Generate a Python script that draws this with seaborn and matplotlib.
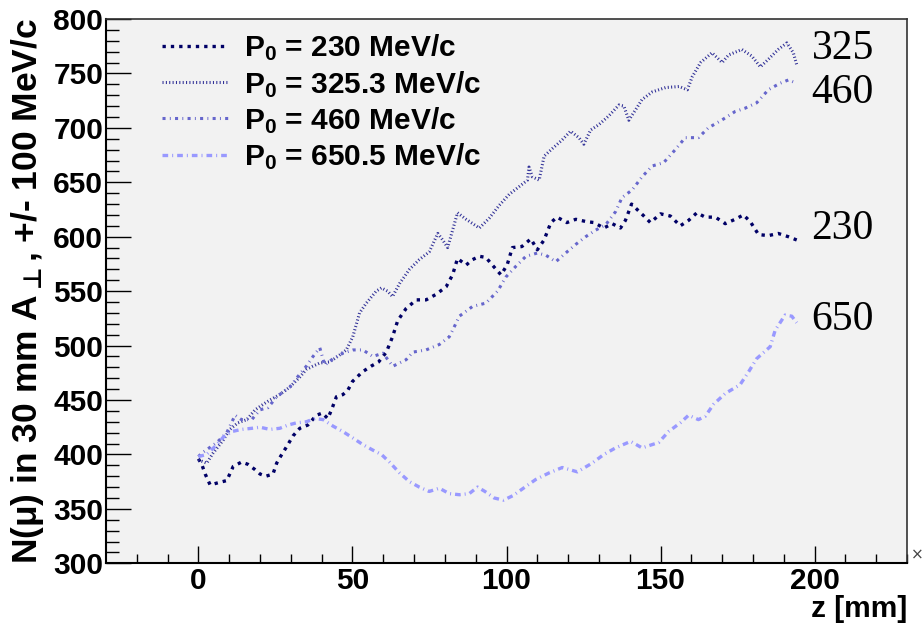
import numpy as np
import pandas as pd
import matplotlib
matplotlib.use("Agg")
import matplotlib.pyplot as plt
import seaborn as sns

# ---- data: muon counts vs. z for four reference momenta ----
z_230 = [0, 1.2, 2.2, 3.8, 6.4, 9.2, 11.3, 14, 16, 18.4, 20, 21.9, 24.2, 25.4, 26.4, 28.6,
         30.7, 32.9, 35.5, 38.3, 40.2, 42, 43.2, 44.8, 46.9, 48.5, 50, 53.3, 56, 58.5, 61,
         63, 64.7, 67.4, 70.7, 73.9, 77.1, 80.4, 82.5, 84.1, 86.9, 89, 91.2, 93.3, 95.4,
         98.2, 100.2, 101.9, 105, 107.9, 110, 112.2, 114.4, 116.4, 119.6, 122.5, 125.7,
         128.4, 131.6, 134.3, 137, 138.6, 140.6, 142.4, 144.6, 146.7, 150, 153.2, 156.4,
         159.1, 161.8, 164.5, 167.8, 171, 174.2, 176.9, 179.1, 181.8, 185, 188.2, 191.5, 194.2]
n_230 = [396, 390, 382, 372, 374, 376, 389, 393, 391, 386, 382, 380, 382, 392, 397, 407,
         417, 424, 427, 436, 438, 433, 441, 453, 455, 459, 467, 476, 481, 485, 494,
         508, 523, 534, 542, 542, 547, 554, 565, 580, 574, 579, 582, 581, 574,
         565, 574, 590, 591, 598, 588, 597, 613, 618, 613, 616, 614,
         613, 608, 612, 608, 615, 630, 625, 619, 613, 621, 619, 610,
         615, 622, 618, 618, 612, 616, 620, 614, 602, 601, 603, 600, 597]

z_325 = [0, 2.7, 4.7, 8, 10.2, 12.8, 15.7, 18.4, 21, 23.2, 26.4, 29.7, 32.9, 35, 37.1,
         39.4, 42.6, 45.2, 48, 50.1, 52.3, 54.5, 57.7, 59.4, 61.4, 63, 65.3, 68.5, 71.7,
         74.9, 77.7, 79.3, 80.9, 82.5, 84.1, 86.9, 91.2, 94.4, 97.7, 100.9, 104.1, 106.8,
         107.3, 108.4, 110.6, 112.2, 114.9, 118.1, 120.8, 123.5, 125.1, 127.3, 130, 133.2,
         136.5, 138.1, 139.7, 141.3, 144, 147.3, 151.6, 156, 158.7, 160.3, 163, 166.7, 170,
         172.1, 176.4, 179.6, 182.4, 185, 188.2, 191, 193.1, 194.2]
n_325 = [395, 392, 401, 413, 423, 429, 432, 441, 446, 450, 455, 462, 471, 478, 481,
         484, 485, 490, 496, 508, 530, 539, 550, 553, 550, 545, 557, 570, 579,
         586, 603, 597, 590, 606, 622, 616, 608, 617, 629, 639, 646, 652,
         664, 655, 652, 674, 681, 689, 697, 691, 685, 698, 703, 711,
         721, 720, 707, 714, 726, 733, 737, 738, 735, 747, 760, 769, 760,
         767, 772, 766, 756, 763, 772, 778, 769, 758]

z_460 = [0, 1, 6, 9.2, 11.9, 14, 17.3, 20, 22.6, 25.4, 29.7, 32.4, 35, 37.2, 39.4, 41,
         43.7, 46.9, 50.2, 53.4, 56.6, 59.9, 63.1, 67.4, 69.6, 73.9, 78.2, 81.4, 82.5,
         84.7, 89, 93.3, 97.1, 99.8, 103.1, 106.3, 110, 112.8, 116, 119.2, 122.5, 125.7,
         128.9, 132.2, 135.4, 137.5, 140.8, 144, 147.3, 151, 154.8, 158, 162.3, 165.5,
         169.8, 174.2, 177.4, 181.2, 185, 188.8, 191.5, 194.2]
n_460 = [398, 401, 411, 420, 436, 432, 432, 441, 443, 453, 462, 472, 481, 490, 498, 482,
         488, 493, 496, 496, 490, 493, 481, 487, 494, 496, 501, 508, 514,
         527, 536, 539, 550, 563, 573, 582, 585, 583, 577, 585, 593, 600,
         606, 611, 623, 636, 643, 655, 665, 668, 680, 691, 691, 700,
         707, 715, 718, 723, 735, 741, 744, 741]

z_650 = [0, 2.7, 6, 8.1, 10.8, 14, 17.3, 20, 23.2, 26.4, 29.1, 31.8, 35, 37.8, 40.5,
         43.7, 46.9, 50.2, 53.4, 56.6, 59.4, 62, 65.3, 68.5, 71.7, 74.9, 78.2, 81.4, 84.7,
         87.9, 90.6, 93, 96, 99, 102, 105, 109.5, 113.8, 118.1, 123, 127.8, 131.6, 135.4,
         140.3, 144, 149.4, 152.6, 156.4, 159.1, 162.3, 164.5, 167.2, 171, 175.8, 178.6,
         181.2, 185.6, 187.2, 190.4, 192.6, 194.2]
n_650 = [398, 400, 409, 416, 421, 423, 424, 425, 423, 424, 427, 429, 430, 433, 432,
         426, 421, 415, 409, 404, 400, 393, 383, 375, 370, 366, 369, 364, 363,
         364, 370, 366, 360, 358, 362, 368, 377, 383, 388, 384, 392, 400, 406,
         412, 406, 411, 421, 429, 436, 432, 435, 446, 456, 464, 476,
         488, 499, 514, 528, 527, 521]

legend_labels = [r"$P_0$ = 230 MeV/c", r"$P_0$ = 325.3 MeV/c",
                 r"$P_0$ = 460 MeV/c", r"$P_0$ = 650.5 MeV/c"]
end_tags = ["230", "325", "460", "650"]

# ---- styling ----
sns.set_theme(style="ticks")
plt.rcParams["font.family"] = ["Liberation Sans", "DejaVu Sans"]
plt.rcParams["font.weight"] = "bold"
plt.rcParams["text.color"] = "black"
plt.rcParams["axes.labelcolor"] = "black"
plt.rcParams["mathtext.fontset"] = "custom"
plt.rcParams["mathtext.rm"] = "Liberation Sans:bold"
plt.rcParams["mathtext.bf"] = "Liberation Sans:bold"
plt.rcParams["mathtext.it"] = "Liberation Sans:bold"
plt.rcParams["mathtext.sf"] = "DejaVu Sans:bold"
plt.rcParams["mathtext.fallback"] = "stixsans"
plt.rcParams["mathtext.default"] = "rm"

colors = ["#000066", "#333399", "#6666cc", "#9999ff"]
widths = [2.4, 2.2, 2.2, 2.4]
styles = [(0, (1.0, 1.5)),
          (0, (0.35, 0.75)),
          (0, (1.0, 1.4, 0.3, 1.4)),
          (0, (1.7, 1.2, 0.3, 1.2))]

fig = plt.figure(figsize=(9.22, 6.27), dpi=100)
ax = fig.add_axes([106 / 922, 1 - 563.3 / 627, (907 - 106) / 922, (563.3 - 19) / 627])
ax.set_facecolor("#f2f2f2")

series = [(z_230, n_230), (z_325, n_325), (z_460, n_460), (z_650, n_650)]
for (zs, ns), lab, c, lw, ls in zip(series, legend_labels, colors, widths, styles):
    df = pd.DataFrame({"z": zs, "N": ns})
    sns.lineplot(data=df, x="z", y="N", ax=ax, color=c, linewidth=lw,
                 linestyle=ls, label=lab, dash_capstyle="butt")

# momentum tags at the end of each curve
tag_pos = {"325": 773, "460": 732, "230": 607, "650": 524}
for t in end_tags:
    ax.text(199, tag_pos[t], t, family="Liberation Serif", fontweight="normal",
            fontsize=30, va="center", ha="left", color="black")

ax.set_xlim(-30, 230)
ax.set_ylim(300, 800)
ax.set_xticks([0, 50, 100, 150, 200])
ax.set_xticks(np.arange(-20, 231, 10), minor=True)
ax.set_yticks(np.arange(300, 801, 50))
ax.set_yticks(np.arange(300, 801, 10), minor=True)
ax.tick_params(axis="both", which="both", direction="in", labelsize=21.5,
               colors="black", width=1.0)
ax.tick_params(axis="x", which="major", length=12.5, pad=3)
ax.tick_params(axis="x", which="minor", length=6.5)
ax.tick_params(axis="y", which="major", length=18, pad=2)
ax.tick_params(axis="y", which="minor", length=9)
for lbl in ax.get_xticklabels() + ax.get_yticklabels():
    lbl.set_fontweight("bold")

for side in ["left", "bottom"]:
    ax.spines[side].set_color("black")
    ax.spines[side].set_linewidth(1.5)
for side in ["top", "right"]:
    ax.spines[side].set_visible(True)
    ax.spines[side].set_color("#333333")
    ax.spines[side].set_linewidth(1.2)

ax.set_xlabel("z [mm]", fontsize=21.5, fontweight="bold", loc="right", labelpad=0)
ax.set_ylabel("N(μ) in 30 mm A$_{\\mathsf{\\bot}}$, +/- 100 MeV/c", fontsize=25.5,
              fontweight="bold", labelpad=5)

leg = ax.legend(loc="upper left", bbox_to_anchor=(0.055, 0.997), frameon=False,
                fontsize=21.5, handlelength=2.2, handletextpad=0.55,
                labelspacing=0.18, borderaxespad=0)
for txt in leg.get_texts():
    txt.set_fontweight("bold")
    txt.set_color("black")

fig.text(917 / 922, 1 - 555 / 627, "×", ha="center", va="center",
         fontsize=11, fontweight="normal", color="#444444", family="DejaVu Sans")

fig.savefig("out.png", dpi=100)
